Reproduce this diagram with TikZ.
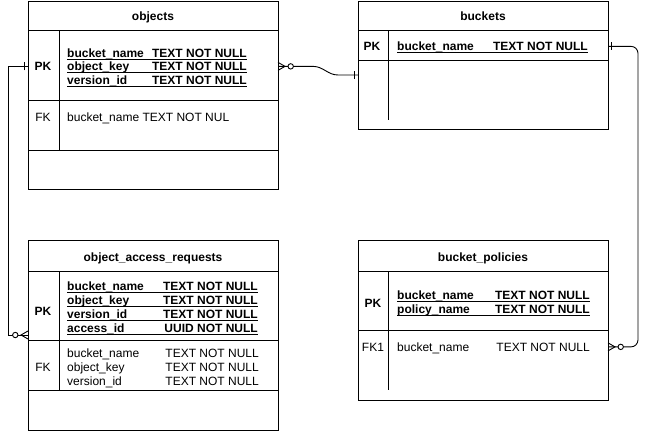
\documentclass[tikz,border=0pt]{standalone}
\usepackage{fontspec}
\setmainfont{Liberation Sans}
\usetikzlibrary{arrows.meta,positioning,calc}
\tikzset{
  % pata de gallo con circulo (cero o muchos)
  pics/ceromuchos/.style={code={
    \draw[rel] (0,-4) -- (7,0) -- (0,4);
    \draw[rel,fill=white] (12.7,0) circle (2.7);
  }},
  % raya simple (uno)
  pics/uno/.style={code={
    \draw[rel] (3.5,-4) -- (3.5,4);
  }}
}

\begin{document}
\begin{tikzpicture}[x=1pt,y=-1pt,
    tabla/.style={draw,line width=0.9pt,minimum width=250pt,anchor=north west,inner sep=0pt,outer sep=0pt},
    linea/.style={line width=0.9pt},
    rel/.style={line width=0.9pt},
    subr/.style={line width=1pt},
    tit/.style={font=\fontsize{12}{14}\selectfont\bfseries,anchor=base},
    clave/.style={font=\fontsize{12}{14}\selectfont\bfseries,anchor=base},
    fk/.style={font=\fontsize{12}{14}\selectfont,anchor=base},
    pkcampo/.style={font=\fontsize{12}{14}\selectfont\bfseries,anchor=base west,inner sep=0pt},
    pktipo/.style={font=\fontsize{12}{14}\selectfont\bfseries,anchor=base east,inner sep=0pt},
    campo/.style={font=\fontsize{12}{14}\selectfont,anchor=base west,inner sep=0pt},
    tipo/.style={font=\fontsize{12}{14}\selectfont,anchor=base east,inner sep=0pt}]
  \useasboundingbox (0,0) rectangle (648,431);

  % objects
  \node[tabla,minimum height=188pt] (objects) at (28,1) {};
  \foreach \y in {29,99,149}
    \draw[linea] ($(objects.north west)+(0,\y)$) -- ($(objects.north east)+(0,\y)$);
  \draw[linea] ($(objects.north west)+(31,29)$) -- ($(objects.north west)+(31,149)$);
  \node[tit] (objtit) at (153,20) {objects};
  \node[clave] (objpk) at (43,70.5) {PK};
  \foreach \n/\y [count=\i] in {bucket\_name/57,object\_key/70.5,version\_id/84} {
    \node[pkcampo] (objc\i) at (67,\y) {\n};
    \node[pktipo] (objt\i) at (247,\y) {TEXT NOT NULL};
    \draw[subr] ($(objc\i.base west)+(0,2.3)$) -- ($(objt\i.base east)+(0,2.3)$);
  }
  \node[fk] (objfk) at (43,121.5) {FK};
  \node[campo] (objfkc) at (67,121.5) {bucket\_name TEXT NOT NUL};

  % buckets
  \node[tabla,minimum height=128pt] (buckets) at (358,1) {};
  \foreach \y in {29,59}
    \draw[linea] ($(buckets.north west)+(0,\y)$) -- ($(buckets.north east)+(0,\y)$);
  \draw[linea] ($(buckets.north west)+(30,29)$) -- ($(buckets.north west)+(30,119)$);
  \node[tit] (buctit) at (483,20) {buckets};
  \node[clave] (bucpk) at (372,50.5) {PK};
  \node[pkcampo] (bucc) at (397,50.5) {bucket\_name};
  \node[pktipo] (buct) at (588,50.5) {TEXT NOT NULL};
  \draw[subr] ($(bucc.base west)+(0,2.3)$) -- ($(buct.base east)+(0,2.3)$);
  \coordinate (bucent) at ($(buckets.north west)+(0,74)$);

  % object_access_requests
  \node[tabla,minimum height=190pt] (oar) at (28,240) {};
  \foreach \y in {31,100,150}
    \draw[linea] ($(oar.north west)+(0,\y)$) -- ($(oar.north east)+(0,\y)$);
  \draw[linea] ($(oar.north west)+(31,31)$) -- ($(oar.north west)+(31,150)$);
  \node[tit] (oartit) at (153,261) {object\_access\_requests};
  \node[clave] (oarpk) at (43,315) {PK};
  \foreach \n/\t/\y [count=\i] in {bucket\_name/TEXT NOT NULL/290,object\_key/TEXT NOT NULL/304,
      version\_id/TEXT NOT NULL/318,access\_id/UUID NOT NULL/332} {
    \node[pkcampo] (oarc\i) at (67,\y) {\n};
    \node[pktipo] (oart\i) at (258,\y) {\t};
    \draw[subr] ($(oarc\i.base west)+(0,2.3)$) -- ($(oart\i.base east)+(0,2.3)$);
  }
  \node[fk] (oarfk) at (43,371) {FK};
  \foreach \n/\y [count=\i] in {bucket\_name/357,object\_key/371,version\_id/385} {
    \node[campo] (oarf\i) at (67,\y) {\n};
    \node[tipo] (oarg\i) at (259,\y) {TEXT NOT NULL};
  }
  \coordinate (oarent) at ($(oar.north west)+(0,95)$);

  % bucket_policies
  \node[tabla,minimum height=160pt] (bp) at (358,240) {};
  \foreach \y in {31,90}
    \draw[linea] ($(bp.north west)+(0,\y)$) -- ($(bp.north east)+(0,\y)$);
  \draw[linea] ($(bp.north west)+(30,31)$) -- ($(bp.north west)+(30,150)$);
  \node[tit] (bptit) at (483,261) {bucket\_policies};
  \node[clave] (bppk) at (373,307) {PK};
  \foreach \n/\y [count=\i] in {bucket\_name/299,policy\_name/313} {
    \node[pkcampo] (bpc\i) at (397,\y) {\n};
    \node[pktipo] (bpt\i) at (590,\y) {TEXT NOT NULL};
    \draw[subr] ($(bpc\i.base west)+(0,2.3)$) -- ($(bpt\i.base east)+(0,2.3)$);
  }
  \node[fk] (bpfk) at (373,351) {FK1};
  \node[campo] (bpfkc) at (397,351) {bucket\_name};
  \node[tipo] (bpfkt) at (590,351) {TEXT NOT NULL};

  % relaciones
  \draw[rel] (objects.west |- objpk) -- ++(-20,0) |- (oarent);
  \pic[rotate=180] at (objects.west |- objpk) {uno};
  \pic[rotate=180] at (oarent) {ceromuchos};

  \draw[rel] (objects.east |- objpk) -- ++(35,0) to[out=0,in=180] ($(bucent)+(-20,0)$) -- (bucent);
  \pic at (objects.east |- objpk) {ceromuchos};
  \pic[rotate=180] at (bucent) {uno};

  \draw[rel,rounded corners=7pt] (buckets.east |- bucpk) -- ++(30,0) |- (bp.east |- bpfk);
  \pic at (buckets.east |- bucpk) {uno};
  \pic at (bp.east |- bpfk) {ceromuchos};
\end{tikzpicture}
\end{document}
